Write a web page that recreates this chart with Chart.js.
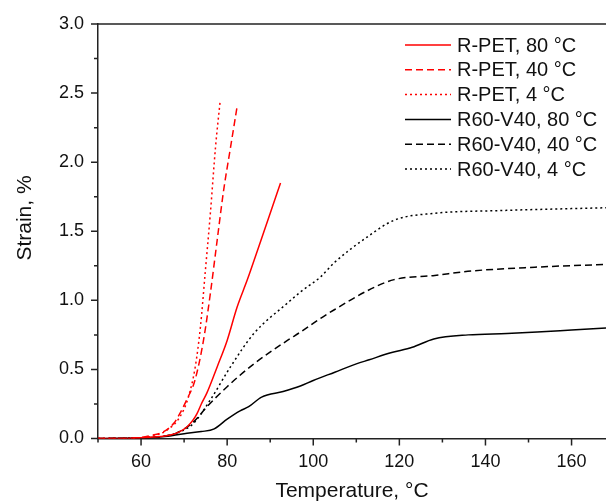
<!DOCTYPE html>
<html>
<head>
<meta charset="utf-8">
<script src="https://cdn.jsdelivr.net/npm/chart.js@4/dist/chart.umd.min.js"></script>
<style>
  html, body { margin: 0; padding: 0; background: #fff; }
  #wrap { width: 606px; height: 503px; }
</style>
</head>
<body>
<div id="wrap"><canvas id="strainChart" width="606" height="503"></canvas></div>
<script>
// temperature (°C) and strain (%)
const rpet80T = [50, 55, 60, 63, 66.8, 69, 70.7, 72, 73, 74, 75.3, 77.7, 80, 82.3, 84.7, 87.8, 90, 92.4];
const rpet80S = [0, 0, 0.005, 0.01, 0.025, 0.05, 0.085, 0.13, 0.18, 0.25, 0.33, 0.52, 0.71, 0.95, 1.15, 1.43, 1.63, 1.85];

const rpet40T = [50, 55, 60, 62.8, 65, 67.6, 69, 70.6, 72.5, 74.5, 76.1, 77.7, 79.2, 80.8, 82.3];
const rpet40S = [0, 0, 0.008, 0.025, 0.045, 0.11, 0.18, 0.28, 0.42, 0.71, 1.05, 1.44, 1.80, 2.11, 2.40];

const rpet4T = [50, 55, 60, 63, 66, 69.1, 71, 72.6, 73.8, 74.9, 76.1, 77.3, 78.4];
const rpet4S = [0, 0, 0.005, 0.02, 0.06, 0.16, 0.30, 0.52, 0.81, 1.20, 1.63, 2.11, 2.45];

const blend80T = [50, 55, 60, 65, 70, 74, 77, 80, 83, 85, 88, 93, 97, 100, 105, 110, 113, 118, 123, 128, 136, 145, 152, 160, 168];
const blend80S = [0, 0.002, 0.005, 0.012, 0.035, 0.05, 0.07, 0.14, 0.2, 0.23, 0.3, 0.34, 0.38, 0.42, 0.48, 0.54, 0.57, 0.62, 0.66, 0.72, 0.75, 0.76, 0.77, 0.785, 0.80];

const blend40T = [50, 55, 60, 65, 68.3, 72.2, 75.3, 80, 86.2, 94, 97, 101.7, 104.8, 112.6, 118.8, 128.2, 135.9, 151.5, 168];
const blend40S = [0, 0.002, 0.005, 0.015, 0.04, 0.12, 0.23, 0.375, 0.54, 0.71, 0.77, 0.87, 0.93, 1.07, 1.15, 1.18, 1.21, 1.24, 1.26];

const blend4T = [50, 55, 60, 65, 68.3, 72.2, 76.1, 80.8, 86.2, 94, 97, 101.7, 104.8, 112.6, 118.8, 128.2, 143.7, 168];
const blend4S = [0, 0.002, 0.005, 0.015, 0.04, 0.11, 0.28, 0.52, 0.76, 0.98, 1.06, 1.17, 1.27, 1.46, 1.58, 1.63, 1.65, 1.67];

const xTicks = [60, 80, 100, 120, 140, 160];
const yTicks = [0, 0.5, 1.0, 1.5, 2.0, 2.5, 3.0];

const FONT = "'Liberation Sans', Arial, sans-serif";

function pts(xs, ys) {
  return xs.map((x, i) => ({ x: x, y: ys[i] }));
}

function series(label, xs, ys, color, dash) {
  return {
    label: label,
    data: pts(xs, ys),
    borderColor: color,
    backgroundColor: color,
    borderWidth: 1.5,
    borderDash: dash,
    pointRadius: 0,
    fill: false,
    cubicInterpolationMode: "monotone"
  };
}

// frame, minor/major ticks, y title and legend
const decor = {
  id: "decor",
  afterDraw(chart) {
    const { ctx, chartArea: a, scales } = chart;
    const xs = scales.x, ys = scales.y;
    ctx.save();
    ctx.strokeStyle = "#222";
    ctx.lineWidth = 1.5;
    ctx.beginPath();
    ctx.moveTo(a.left, a.top);
    ctx.lineTo(a.right, a.top);
    ctx.stroke();

    ctx.beginPath();
    for (let v = 50; v <= 168; v += 10) {
      const px = xs.getPixelForValue(v);
      const len = v % 20 === 0 ? 7 : 4;
      ctx.moveTo(px, a.bottom);
      ctx.lineTo(px, a.bottom + len);
    }
    for (let v = 0; v <= 3.0001; v += 0.25) {
      const py = ys.getPixelForValue(v);
      const len = Math.abs(v * 2 - Math.round(v * 2)) < 1e-6 ? 7 : 4;
      ctx.moveTo(a.left, py);
      ctx.lineTo(a.left - len, py);
    }
    ctx.stroke();

    // y axis title
    ctx.fillStyle = "#111";
    ctx.font = "21px " + FONT;
    ctx.translate(25, 218);
    ctx.rotate(-Math.PI / 2);
    ctx.textAlign = "center";
    ctx.textBaseline = "middle";
    ctx.fillText("Strain, %", 0, 0);
    ctx.restore();

    // legend
    ctx.save();
    ctx.font = "20px " + FONT;
    ctx.textBaseline = "middle";
    chart.data.datasets.forEach((ds, i) => {
      const y = a.top + 21 + i * 24.8;
      ctx.strokeStyle = ds.borderColor;
      ctx.lineWidth = 1.5;
      ctx.setLineDash(ds.borderDash || []);
      ctx.beginPath();
      ctx.moveTo(405, y);
      ctx.lineTo(451, y);
      ctx.stroke();
      ctx.setLineDash([]);
      ctx.fillStyle = "#111";
      ctx.fillText(ds.label, 457, y + 1);
    });
    ctx.restore();
  }
};

const ctx = document.getElementById("strainChart");

new Chart(ctx, {
  type: "line",
  data: {
    datasets: [
      series("R-PET, 80 °C", rpet80T, rpet80S, "#ff0000", []),
      series("R-PET, 40 °C", rpet40T, rpet40S, "#ff0000", [7, 4]),
      series("R-PET, 4 °C", rpet4T, rpet4S, "#ff0000", [2, 3]),
      series("R60-V40, 80 °C", blend80T, blend80S, "#000000", []),
      series("R60-V40, 40 °C", blend40T, blend40S, "#000000", [7, 4]),
      series("R60-V40, 4 °C", blend4T, blend4S, "#000000", [2, 3])
    ]
  },
  options: {
    responsive: false,
    animation: false,
    layout: { padding: { top: 24, left: 0, right: 0, bottom: 0 } },
    plugins: {
      legend: { display: false },
      tooltip: { enabled: false }
    },
    scales: {
      x: {
        type: "linear",
        min: 50,
        max: 168,
        afterBuildTicks: (s) => { s.ticks = xTicks.map((v) => ({ value: v })); },
        afterFit: (s) => { s.height = 64.5; },
        grid: { display: false },
        border: { display: true, color: "#222", width: 1.5 },
        ticks: { color: "#111", font: { size: 18, family: FONT }, padding: 5, maxRotation: 0 },
        title: {
          display: true,
          text: "Temperature, °C",
          color: "#111",
          font: { size: 21, family: FONT },
          padding: { top: 4, bottom: -1 }
        }
      },
      y: {
        type: "linear",
        min: 0,
        max: 3,
        afterBuildTicks: (s) => { s.ticks = yTicks.map((v) => ({ value: v })); },
        afterFit: (s) => { s.width = 98; },
        grid: { display: false },
        border: { display: true, color: "#222", width: 1.5 },
        ticks: {
          color: "#111",
          font: { size: 18, family: FONT },
          padding: 6,
          callback: (v) => Number(v).toFixed(1)
        }
      }
    }
  },
  plugins: [decor]
});
</script>
</body>
</html>
